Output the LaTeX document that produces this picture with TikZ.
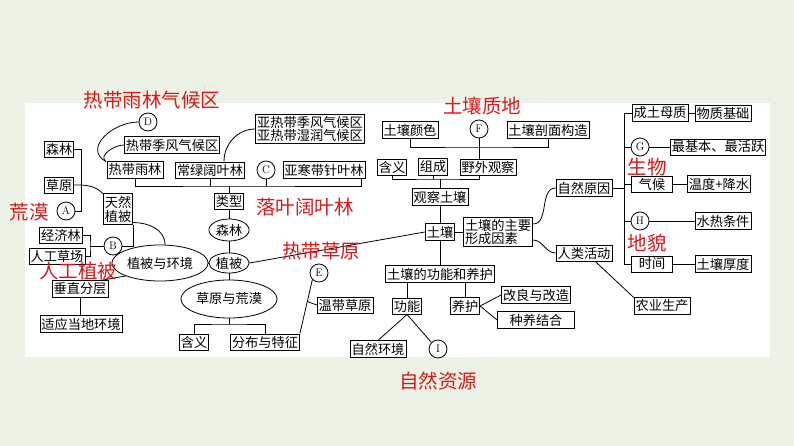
\documentclass[tikz,border=0pt]{standalone}
\usepackage{fontspec}
\newfontfamily\cjk{Noto Sans CJK SC}
\usetikzlibrary{shapes.geometric,calc}
\definecolor{bgc}{RGB}{236,242,229}
\definecolor{redc}{RGB}{222,24,24}
\tikzset{
 bx/.style={draw,line width=0.8pt,fill=white,inner xsep=1.5pt,inner ysep=2pt,font=\cjk\fontsize{13.2}{15}\selectfont,align=center},
 el/.style={ellipse,draw,line width=0.8pt,fill=white,inner sep=1pt,font=\cjk\fontsize{13.2}{15}\selectfont},
 ci/.style={circle,draw,line width=0.8pt,fill=white,minimum size=18pt,inner sep=0pt,font=\fontsize{11}{11}\selectfont},
 rl/.style={text=redc,font=\cjk\fontsize{19.5}{21}\selectfont,inner sep=0pt},
 ln/.style={line width=0.8pt}
}
\begin{document}
\begin{tikzpicture}[x=1pt,y=-1pt]
\useasboundingbox (0,0) rectangle (794,446);
\fill[bgc] (0,0) rectangle (794,446);
\fill[white] (25,103) rectangle (770,357);
% left nodes
\node[bx] (senlin) at (59,149) {森林};
\node[bx] (caoyuan) at (59,185) {草原};
\node[ci] (A) at (66,211) {A};
\node[bx] (tianran) at (118,209) {天然\\[-1pt]植被};
\node[bx] (jjl) at (61,235) {经济林};
\node[bx] (rgcc) at (57,256) {人工草场};
\node[ci] (B) at (113,246) {B};
\node[el,minimum width=76pt,minimum height=36pt] (hjy) at (160,263) {植被与环境};
\node[bx] (czfc) at (80,289) {垂直分层};
\node[bx] (sydd) at (81,324) {适应当地环境};
\node[el,minimum width=38pt,minimum height=20pt] (zb) at (229,263) {植被};
\node[el,minimum width=38pt,minimum height=22pt] (sl2) at (229,230) {森林};
\node[bx] (lx) at (229,201) {类型};
\node[bx] (rdyl) at (135,170) {热带雨林};
\node[bx] (clky) at (210,170) {常绿阔叶林};
\node[ci] (C) at (266,170) {C};
\node[bx] (hhz) at (324,170) {亚寒带针叶林};
\node[ci] (D) at (148,122) {D};
\node[bx] (rdjf) at (172,145) {热带季风气候区};
\node[bx] (yarq) at (310,129) {亚热带季风气候区\\[-2pt]亚热带湿润气候区};
\node[el,minimum width=77pt,minimum height=38pt] (cyhm) at (229,299) {草原与荒漠};
\node[bx] (hy1) at (194,342) {含义};
\node[bx] (fbtz) at (265,342) {分布与特征};
\node[ci] (E) at (319,273) {E};
\node[bx] (wdcy) at (345,305) {温带草原};
% soil
\node[ci] (F) at (479,129) {F};
\node[bx] (tsys) at (410,130) {土壤颜色};
\node[bx] (tspm) at (548,130) {土壤剖面构造};
\node[bx] (hy2) at (392,167) {含义};
\node[bx] (zc) at (433,167) {组成};
\node[bx] (yw) at (488,167) {野外观察};
\node[bx] (gc) at (440,197) {观察土壤};
\node[bx] (tr) at (440,232) {土壤};
\node[bx,align=left] (ys) at (498,232) {土壤的主要\\[-2pt]形成因素};
\node[bx] (gy) at (440,274) {土壤的功能和养护};
\node[bx] (gn) at (407,306) {功能};
\node[bx] (yh) at (465,306) {养护};
\node[bx] (gl) at (536,295) {改良与改造};
\node[bx,minimum width=77pt] (zy) at (536,320) {种养结合};
\node[bx] (zrhj) at (378,349) {自然环境};
\node[ci] (I) at (438,349) {I};
\node[bx] (zrry) at (584,188) {自然原因};
\node[bx] (rlhd) at (584,253) {人类活动};
\node[bx] (nysc) at (662,306) {农业生产};
\node[bx] (cttm) at (660,113) {成土母质};
\node[bx] (wzjc) at (723,113) {物质基础};
\node[ci] (G) at (640,147) {G};
\node[bx] (zjb) at (718,147) {最基本、最活跃};
\node[bx,minimum width=41pt] (qh) at (652,184) {气候};
\node[bx] (wdjs) at (719,184) {温度+降水};
\node[ci] (H) at (640,221) {H};
\node[bx] (srtj) at (723,221) {水热条件};
\node[bx,minimum width=41pt] (sj) at (652,264) {时间};
\node[bx] (tshd) at (723,264) {土壤厚度};
\coordinate (b1) at (229,186);
\coordinate (b2) at (229,324);
\coordinate (b3) at (479,147);
\coordinate (b4) at (440,179);
\coordinate (rbx) at (624,0);
\coordinate (jb) at (90,246);
% connectors
\draw[ln] (senlin.east) -| (81,211) -- (A.east);
\draw[ln] (caoyuan.east) to[out=0,in=135] (tianran.north west);
\draw[ln] (B.east) -| (tianran.south east);
\draw[ln] ($(tianran.south east)+(0,-2)$) to[out=0,in=90] ($(hjy.north)+(5,0)$);
\draw[ln] (jjl.east) -| (jb) |- (rgcc.east);
\draw[ln] (jb) -- (B.west);
\draw[ln] ($(czfc.north east)+(-8,0)$) -- (hjy.south west);
\draw[ln] (czfc.south) -- (czfc.south |- sydd.north);
\draw[ln] (hjy.east) -- (zb.west);
\draw[ln] (zb.north) -- (sl2.south);
\draw[ln] (sl2.north) -- (lx.south);
\draw[ln] (lx.north) -- (b1);
\draw[ln] (rdyl.south) |- (b1) -| ($(hhz.south east)+(-4,0)$);
\draw[ln] (clky.south) -- (clky.south |- b1);
\draw[ln] (C.south) -- (C.south |- b1);
\draw[ln] (D.west) to[out=180,in=150,looseness=1.3] ($(rdyl.north west)+(-1,0)$);
\draw[ln] (rdjf.west) to[out=180,in=140] ($(rdyl.north west)+(-1,0)$);
\draw[ln] (yarq.west) to[out=180,in=90] ($(clky.north)+(14,0)$);
\draw[ln] (zb.south) -- (cyhm.north);
\draw[ln] (cyhm.south) -- (b2);
\draw[ln] (hy1.north) |- (b2) -| (fbtz.north);
\draw[ln] (fbtz.north east) -- (E.south west);
\draw[ln] (wdcy.west) -- ($(fbtz.north east)!0.594!(E.south west)$);
\draw[ln] (zb.east) -- (tr.west);
\draw[ln] (tsys.south) |- (b3) -| (tspm.south);
\draw[ln] (F.south) -- (F.south |- yw.north);
\draw[ln] (hy2.south) |- (b4) -| (F.south |- yw.south);
\draw[ln] (zc.south) -- (zc.south |- b4);
\draw[ln] (b4) -- (gc.north);
\draw[ln] (gc.south) -- (tr.north);
\draw[ln] (tr.east) -- (ys.west);
\draw[ln] (tr.south) -- (gy.north);
\draw[ln] (gn.north) -- (gn.north |- gy.south);
\draw[ln] (yh.north) -- (yh.north |- gy.south);
\draw[ln] (gl.west) -- (yh.east) -- (zy.west);
\draw[ln] (zrhj.north) -- (gn.south) -- (I.north west);
\draw[ln] ($(ys.east)+(0,-8)$) to[out=0,in=180] (zrry.west);
\draw[ln] ($(ys.east)+(0,8)$) to[out=0,in=180] (rlhd.west);
\draw[ln] ($(rlhd.south east)+(-17,0)$) -- (nysc.north west);
\draw[ln] (zrry.east) -- (zrry.east -| rbx);
\draw[ln] (cttm.west) -| (rbx |- sj.west) -- (sj.west);
\draw[ln] (G.west) -- (G.west -| rbx);
\draw[ln] (qh.west) -- (qh.west -| rbx);
\draw[ln] (H.west) -- (H.west -| rbx);
\draw[ln] (cttm.east) -- (wzjc.west);
\draw[ln] (G.east) -- (zjb.west);
\draw[ln] (qh.east) -- (wdjs.west);
\draw[ln] (H.east) -- (srtj.west);
\draw[ln] (sj.east) -- (tshd.west);
% red labels
\node[rl] (r1) at (152,100) {热带雨林气候区};
\node[rl] (r2) at (482,106) {土壤质地};
\node[rl] (r3) at (647,167) {生物};
\node[rl] (r4) at (647,243) {地貌};
\node[rl] (r5) at (29,212) {荒漠};
\node[rl] (r6) at (305,207) {落叶阔叶林};
\node[rl] (r7) at (78,271) {人工植被};
\node[rl] (r8) at (321,251) {热带草原};
\node[rl] (r9) at (438,381) {自然资源};
\end{tikzpicture}
\end{document}
